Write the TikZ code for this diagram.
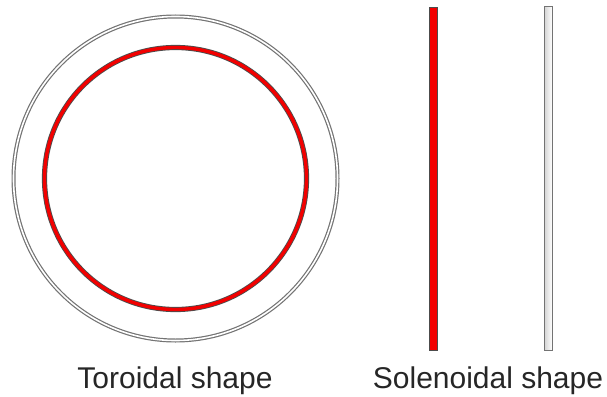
\documentclass[tikz,border=0pt]{standalone}
\usepackage{fontspec}
\setmainfont{Liberation Sans}
\begin{document}
\begin{tikzpicture}[x=1pt,y=-1pt,
  ring/.style={draw=black!55,double=white,line width=1.2pt,double distance=1.6pt},
  redring/.style={draw=black!70,double=red!95!black,line width=0.9pt,double distance=3.4pt},
  redbar/.style={draw=black!70,fill=red!95!black,line width=0.9pt},
  greybar/.style={draw=black!55,left color=gray!35,right color=white,line width=1pt},
  lbl/.style={font=\fontsize{30}{32}\selectfont,anchor=base,inner sep=0pt,text=black!85}]
\useasboundingbox (0,0) rectangle (607,396);
\coordinate (c) at (175.5,178.5);
\draw[ring] (c) circle (162);
\draw[redring] (c) circle (131);
\draw[redbar] (429,7) rectangle (437,350);
\draw[greybar] (544,7) rectangle (552,350);
\node[lbl] (tor) at (175,388) {Toroidal shape};
\node[lbl] (sol) at (488,388) {Solenoidal shape};
\end{tikzpicture}
\end{document}
